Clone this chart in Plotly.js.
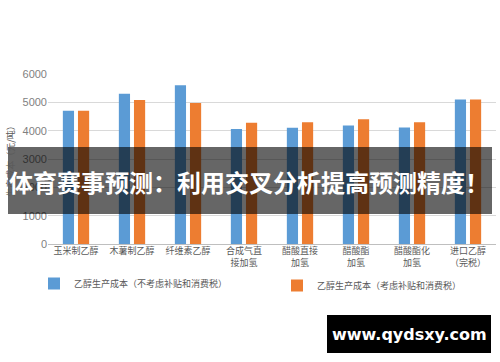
<!DOCTYPE html>
<html>
<head>
<meta charset="utf-8">
<script src="https://cdn.plot.ly/plotly-3.0.1.min.js"></script>
<style>html,body{margin:0;padding:0;background:#fff;}#chart{width:500px;height:362px;}</style>
</head>
<body>
<div id="chart"></div>
<script>
var categories = ["玉米制乙醇", "木薯制乙醇", "纤维素乙醇", "合成气直<br>接加氢", "醋酸直接<br>加氢", "醋酸酯<br>加氢", "醋酸酯化<br>加氢", "进口乙醇<br>（完税）"];
var costNoSubsidy = [4700, 5300, 5600, 4060, 4100, 4180, 4110, 5100];
var costWithSubsidy = [4700, 5080, 4980, 4280, 4300, 4400, 4300, 5100];
var seriesNames = ["乙醇生产成本（不考虑补贴和消费税）", "乙醇生产成本（考虑补贴和消费税）"];
var yTicks = [0, 1000, 2000, 3000, 4000, 5000, 6000];
var yTitle = "生产成本（元/吨）";
var bannerText = "体育赛事预测：利用交叉分析提高预测精度！";
var watermarkText = "www.qydsxy.com";

var cjk = '"Noto Sans CJK SC", "Noto Sans", sans-serif';

var traces = [
  {type: "bar", x: categories, y: costNoSubsidy, name: seriesNames[0], marker: {color: "#5B9BD5"}, legend: "legend"},
  {type: "bar", x: categories, y: costWithSubsidy, name: seriesNames[1], marker: {color: "#ED7D31"}, legend: "legend2"}
];

var L = 48, R = 4, T = 74, B = 118, W = 500, H = 362;
var pw = W - L - R, ph = H - T - B;
function px(x) { return (x - L) / pw; }
function py(y) { return (H - B - y) / ph; }

var legendFont = {family: cjk, size: 9, color: "#595959"};

var layout = {
  width: W, height: H,
  margin: {l: L, r: R, t: T, b: B},
  paper_bgcolor: "#fff", plot_bgcolor: "#fff",
  barmode: "group", bargap: 0.46, bargroupgap: 0.26,
  showlegend: true,
  font: {family: cjk, color: "#595959"},
  xaxis: {
    type: "category", showgrid: false, zeroline: false, showline: false, ticks: "",
    tickfont: {family: cjk, size: 9, color: "#595959"}, automargin: false
  },
  yaxis: {
    range: [0, 6000], tickvals: yTicks, showgrid: true, gridcolor: "#d9d9d9", gridwidth: 1,
    zeroline: true, zerolinecolor: "#bfbfbf", showline: false, ticks: "",
    tickfont: {family: '"Liberation Sans", Arial, sans-serif', size: 11, color: "#7f7f7f"},
    title: {text: yTitle, font: {family: cjk, size: 9, color: "#595959"}, standoff: 6},
    automargin: false
  },
  legend: {
    orientation: "h", x: px(34), xanchor: "left", y: py(269), yanchor: "top",
    font: legendFont, itemwidth: 30, bgcolor: "rgba(0,0,0,0)"
  },
  legend2: {
    orientation: "h", x: px(277), xanchor: "left", y: py(271), yanchor: "top",
    font: legendFont, itemwidth: 30, bgcolor: "rgba(0,0,0,0)"
  },
  shapes: [
    {type: "rect", xref: "paper", yref: "paper", layer: "above",
     x0: px(8), x1: px(492), y0: py(214), y1: py(147),
     fillcolor: "rgba(0,0,0,0.6)", line: {width: 0}},
    {type: "rect", xref: "paper", yref: "paper", layer: "above",
     x0: px(327), x1: px(491), y0: py(353), y1: py(315),
     fillcolor: "#000", line: {width: 0}}
  ],
  annotations: [
    {xref: "paper", yref: "paper", x: px(249), y: py(181), xanchor: "center", yanchor: "middle",
     text: "<b>" + bannerText + "</b>", showarrow: false,
     font: {family: cjk, size: 24, color: "#fff"}},
    {xref: "paper", yref: "paper", x: px(409), y: py(334), xanchor: "center", yanchor: "middle",
     text: "<b>" + watermarkText + "</b>", showarrow: false,
     font: {family: '"DejaVu Sans", sans-serif', size: 16, color: "#fff"}}
  ]
};

Plotly.newPlot("chart", traces, layout, {displayModeBar: false, staticPlot: true});
</script>
</body>
</html>
